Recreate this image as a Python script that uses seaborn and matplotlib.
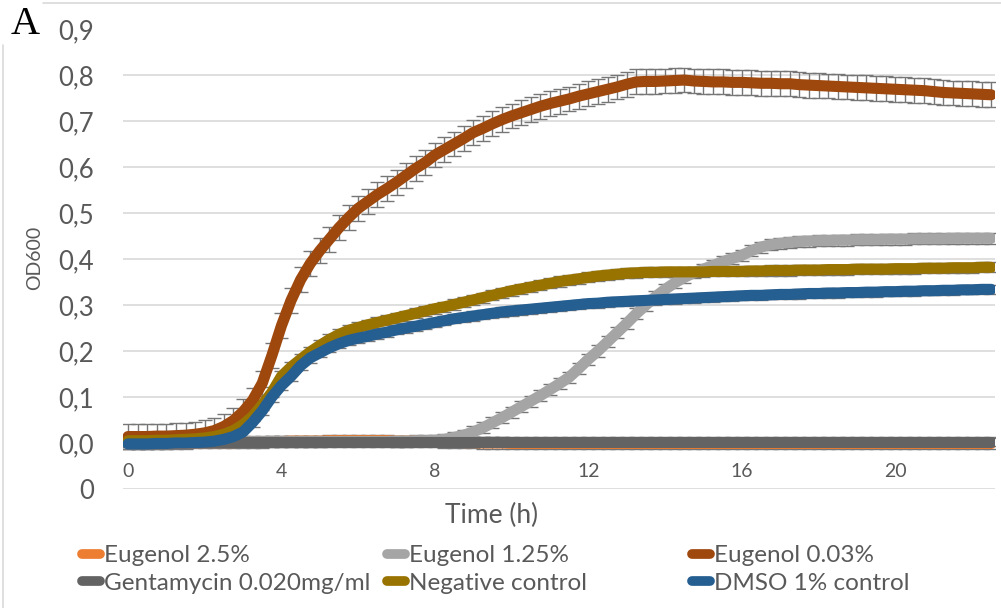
import matplotlib

matplotlib.use("Agg")
import matplotlib.pyplot as plt
import pandas as pd
import seaborn as sns
from matplotlib.lines import Line2D

# sampling every 15 min, 0 h to 22.5 h
hours = [
    0.0, 0.25, 0.5, 0.75, 1.0, 1.25, 1.5, 1.75, 2.0, 2.25,
    2.5, 2.75, 3.0, 3.25, 3.5, 3.75, 4.0, 4.25, 4.5, 4.75,
    5.0, 5.25, 5.5, 5.75, 6.0, 6.25, 6.5, 6.75, 7.0, 7.25,
    7.5, 7.75, 8.0, 8.25, 8.5, 8.75, 9.0, 9.25, 9.5, 9.75,
    10.0, 10.25, 10.5, 10.75, 11.0, 11.25, 11.5, 11.75, 12.0, 12.25,
    12.5, 12.75, 13.0, 13.25, 13.5, 13.75, 14.0, 14.25, 14.5, 14.75,
    15.0, 15.25, 15.5, 15.75, 16.0, 16.25, 16.5, 16.75, 17.0, 17.25,
    17.5, 17.75, 18.0, 18.25, 18.5, 18.75, 19.0, 19.25, 19.5, 19.75,
    20.0, 20.25, 20.5, 20.75, 21.0, 21.25, 21.5, 21.75, 22.0, 22.25,
    22.5,
]

eugenol_25 = [
    0.0, 0.0, 0.0, 0.0, 0.0, 0.0, 0.0, 0.001, 0.001, 0.001,
    0.001, 0.001, 0.002, 0.002, 0.002, 0.003, 0.003, 0.004, 0.004, 0.004,
    0.004, 0.005, 0.005, 0.005, 0.005, 0.005, 0.005, 0.005, 0.004, 0.004,
    0.004, 0.003, 0.003, 0.002, 0.002, 0.001, 0.001, 0.0, 0.0, 0.0,
    -0.001, -0.001, -0.001, -0.001, -0.001, -0.001, -0.001, -0.001, -0.001, -0.001,
    -0.001, -0.001, -0.001, -0.001, -0.001, -0.001, -0.001, -0.001, -0.001, -0.001,
    -0.001, -0.001, -0.001, -0.001, -0.001, -0.001, -0.001, -0.001, -0.001, -0.001,
    -0.001, -0.001, -0.001, -0.001, -0.001, -0.001, -0.001, -0.001, -0.001, -0.001,
    -0.001, -0.001, -0.001, -0.001, -0.001, -0.001, -0.001, -0.001, -0.001, -0.001,
    -0.001,
]

eugenol_125 = [
    0.003, 0.003, 0.003, 0.003, 0.003, 0.003, 0.003, 0.003, 0.003, 0.003,
    0.003, 0.003, 0.003, 0.003, 0.003, 0.003, 0.003, 0.003, 0.003, 0.003,
    0.003, 0.003, 0.003, 0.003, 0.003, 0.003, 0.003, 0.003, 0.004, 0.004,
    0.005, 0.005, 0.006, 0.008, 0.012, 0.017, 0.024, 0.033, 0.044, 0.055,
    0.067, 0.079, 0.091, 0.103, 0.116, 0.129, 0.143, 0.162, 0.182, 0.2,
    0.22, 0.24, 0.26, 0.281, 0.3, 0.318, 0.334, 0.348, 0.36, 0.37,
    0.378, 0.386, 0.394, 0.401, 0.408, 0.418, 0.426, 0.431, 0.434, 0.436,
    0.438, 0.439, 0.44, 0.44, 0.441, 0.441, 0.442, 0.442, 0.442, 0.443,
    0.443, 0.443, 0.444, 0.444, 0.444, 0.444, 0.445, 0.445, 0.445, 0.445,
    0.445,
]

eugenol_003 = [
    0.014, 0.014, 0.014, 0.015, 0.015, 0.016, 0.017, 0.019, 0.022, 0.027,
    0.036, 0.049, 0.068, 0.093, 0.13, 0.19, 0.255, 0.31, 0.355, 0.39,
    0.418, 0.443, 0.468, 0.49, 0.51, 0.525, 0.54, 0.553, 0.567, 0.582,
    0.597, 0.61, 0.626, 0.638, 0.65, 0.662, 0.675, 0.684, 0.694, 0.703,
    0.711, 0.718, 0.725, 0.732, 0.738, 0.743, 0.748, 0.754, 0.759, 0.764,
    0.769, 0.774, 0.78, 0.785, 0.786, 0.786, 0.787, 0.788, 0.789, 0.787,
    0.786, 0.785, 0.785, 0.784, 0.784, 0.783, 0.782, 0.782, 0.781, 0.781,
    0.779, 0.778, 0.777, 0.776, 0.775, 0.774, 0.773, 0.772, 0.771, 0.77,
    0.769, 0.768, 0.767, 0.766, 0.764, 0.762, 0.761, 0.76, 0.759, 0.758,
    0.757,
]

gentamycin = [
    0.003, 0.003, 0.003, 0.003, 0.003, 0.003, 0.003, 0.003, 0.003, 0.003,
    0.003, 0.003, 0.003, 0.003, 0.003, 0.003, 0.003, 0.003, 0.003, 0.003,
    0.003, 0.003, 0.003, 0.003, 0.003, 0.003, 0.003, 0.003, 0.003, 0.003,
    0.003, 0.003, 0.003, 0.003, 0.003, 0.003, 0.003, 0.003, 0.003, 0.003,
    0.003, 0.003, 0.003, 0.003, 0.003, 0.003, 0.003, 0.003, 0.003, 0.003,
    0.003, 0.003, 0.003, 0.003, 0.003, 0.003, 0.003, 0.003, 0.003, 0.003,
    0.003, 0.003, 0.003, 0.003, 0.003, 0.003, 0.003, 0.003, 0.003, 0.003,
    0.003, 0.003, 0.003, 0.003, 0.003, 0.003, 0.003, 0.003, 0.003, 0.003,
    0.003, 0.003, 0.003, 0.003, 0.003, 0.003, 0.003, 0.003, 0.003, 0.003,
    0.003,
]

negative_ctrl = [
    0.005, 0.005, 0.005, 0.006, 0.006, 0.007, 0.008, 0.009, 0.011, 0.014,
    0.019, 0.027, 0.04, 0.058, 0.083, 0.11, 0.145, 0.165, 0.182, 0.198,
    0.212, 0.225, 0.236, 0.245, 0.251, 0.257, 0.262, 0.267, 0.272, 0.277,
    0.282, 0.287, 0.292, 0.296, 0.301, 0.306, 0.311, 0.316, 0.321, 0.326,
    0.331, 0.335, 0.339, 0.343, 0.347, 0.351, 0.354, 0.357, 0.36, 0.363,
    0.365, 0.367, 0.369, 0.37, 0.371, 0.371, 0.372, 0.372, 0.372, 0.372,
    0.372, 0.373, 0.373, 0.373, 0.373, 0.374, 0.374, 0.375, 0.375, 0.375,
    0.376, 0.376, 0.376, 0.377, 0.377, 0.377, 0.378, 0.378, 0.378, 0.378,
    0.379, 0.379, 0.379, 0.38, 0.38, 0.38, 0.381, 0.381, 0.381, 0.382,
    0.382,
]

dmso_ctrl = [
    -0.002, -0.002, -0.002, -0.001, -0.001, 0.0, 0.0, 0.001, 0.002, 0.004,
    0.008, 0.014, 0.024, 0.045, 0.07, 0.1, 0.125, 0.145, 0.168, 0.185,
    0.196, 0.207, 0.216, 0.223, 0.228, 0.232, 0.237, 0.241, 0.246, 0.25,
    0.254, 0.258, 0.262, 0.266, 0.27, 0.273, 0.276, 0.279, 0.282, 0.285,
    0.287, 0.289, 0.291, 0.293, 0.295, 0.297, 0.299, 0.301, 0.303, 0.304,
    0.306, 0.307, 0.308, 0.309, 0.31, 0.311, 0.312, 0.313, 0.314, 0.315,
    0.316, 0.317, 0.318, 0.319, 0.32, 0.321, 0.321, 0.322, 0.323, 0.323,
    0.324, 0.325, 0.325, 0.326, 0.326, 0.327, 0.327, 0.328, 0.328, 0.329,
    0.329, 0.33, 0.33, 0.331, 0.331, 0.332, 0.332, 0.333, 0.333, 0.334,
    0.334,
]

series_names = [
    "Eugenol 2.5%",
    "Eugenol 1.25%",
    "Eugenol 0.03%",
    "Gentamycin 0.020mg/ml",
    "Negative control",
    "DMSO 1% control",
]
series_values = [eugenol_25, eugenol_125, eugenol_003, gentamycin, negative_ctrl, dmso_ctrl]
series_sd = [0.012, 0.012, 0.027, 0.01, 0.011, 0.01]
series_colors = ["#ED7D31", "#A5A5A5", "#9E480E", "#636363", "#997300", "#255E91"]

y_ticks = [-0.1, 0.0, 0.1, 0.2, 0.3, 0.4, 0.5, 0.6, 0.7, 0.8, 0.9]
y_ticklabels = ["0", "0,0", "0,1", "0,2", "0,3", "0,4", "0,5", "0,6", "0,7", "0,8", "0,9"]
x_ticks = [0, 4, 8, 12, 16, 20]

frames = []
for name, vals, sd in zip(series_names, series_values, series_sd):
    frames.append(pd.DataFrame({"Time": hours, "OD600": vals, "sd": sd, "Series": name}))
df = pd.concat(frames, ignore_index=True)

sns.set_style("white")
plt.rcParams["font.family"] = ["Lato", "DejaVu Sans"]
TXT = "#595959"

W, H = 1001, 608
fig = plt.figure(figsize=(W / 100, H / 100), dpi=100)
ax = fig.add_axes([123 / W, (H - 489) / H, (995 - 123) / W, (489 - 29) / H])

# error bars first, lines over them
for name in series_names:
    sub = df[df.Series == name]
    ax.errorbar(sub.Time, sub.OD600, yerr=sub.sd, fmt="none", ecolor="#767676",
                elinewidth=1, capsize=5, capthick=1, zorder=2)

sns.lineplot(data=df, x="Time", y="OD600", hue="Series", hue_order=series_names,
             palette=series_colors, linewidth=8, solid_capstyle="round",
             legend=False, ax=ax, zorder=3)

ax.set_xlim(-0.13, 22.6)
ax.set_ylim(-0.1, 0.9)
ax.set_yticks(y_ticks)
ax.set_yticklabels(y_ticklabels)
ax.set_xticks(x_ticks)
ax.set_xticklabels([str(v) for v in x_ticks])
ax.yaxis.grid(True, color="#d9d9d9", linewidth=1.2)
ax.xaxis.grid(False)
ax.get_ygridlines()[-1].set_visible(False)
ax.set_axisbelow(True)
for sp in ax.spines.values():
    sp.set_visible(False)

ax.tick_params(axis="y", length=0, pad=21, labelsize=18.5, labelcolor=TXT)
ax.tick_params(axis="x", length=0, pad=-19, labelsize=14, labelcolor=TXT)

ax.set_xlabel("Time (h)", fontsize=19, color=TXT)
ax.xaxis.set_label_coords(0.423, -0.057)
ax.xaxis.label.set_va("center")
ax.set_ylabel("OD600", fontsize=14, color=TXT)
ax.yaxis.set_label_coords(-0.101, 0.502)
ax.yaxis.label.set_va("center")

# chart frame (partly cropped) and panel letter
frame_kw = dict(color="#d9d9d9", linewidth=1.2, transform=fig.transFigure)
fig.add_artist(Line2D([43 / W, 1.0], [1 - 3 / H, 1 - 3 / H], **frame_kw))
fig.add_artist(Line2D([3 / W, 3 / W], [0.0, 1 - 45 / H], **frame_kw))
fig.text(25 / W, 1 - 24 / H, "A", family="Liberation Serif", fontsize=29,
         ha="center", va="center", color="black")

# legend: three columns at fixed spots, like Excel does
handles = {n: Line2D([], [], color=c, linewidth=7, solid_capstyle="round")
           for n, c in zip(series_names, series_colors)}
cols = [(82, [series_names[0], series_names[3]]),
        (387, [series_names[1], series_names[4]]),
        (692, [series_names[2], series_names[5]])]
for x0, names in cols:
    fig.legend([handles[n] for n in names], names, loc="upper left",
               bbox_to_anchor=(x0 / W, 1 - 545 / H), frameon=False,
               fontsize=17.5, handlelength=0.75, handletextpad=0.15,
               borderpad=0, borderaxespad=0, labelspacing=0.28,
               labelcolor=TXT)

fig.savefig("out.png", dpi=100)
